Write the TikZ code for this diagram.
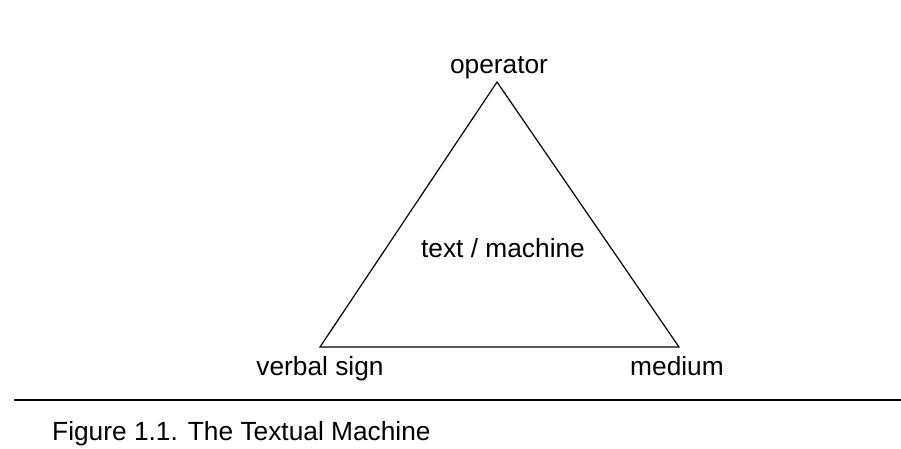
\documentclass[tikz,border=0pt]{standalone}
\usepackage{fontspec}
\setmainfont{Liberation Sans}
\frenchspacing
\begin{document}
\begin{tikzpicture}[x=1pt,y=-1pt,
  lbl/.style={anchor=base,inner sep=0pt,font=\fontsize{26.3}{30}\selectfont},
  edge/.style={line width=1.2pt,line join=miter},
  rule/.style={line width=1.8pt}]
\useasboundingbox (0,0) rectangle (901,448);
\coordinate (top) at (497,82);
\coordinate (bl) at (320,347);
\coordinate (br) at (679,347);
\draw[edge] (top) -- (bl) -- (br) -- cycle;
\node[lbl] (op) at (499,73) {operator};
\node[lbl] (tm) at (503,257) {text / machine};
\node[lbl] (vs) at (320,375) {verbal sign};
\node[lbl] (md) at (677,375) {medium};
\coordinate (rl) at (14,400);
\coordinate (rr) at (901,400);
\draw[rule] (rl) -- (rr);
\node[lbl,anchor=base west] (cap) at (52,440) {Figure 1.1.\hspace{10pt}The Textual Machine};
\end{tikzpicture}
\end{document}
